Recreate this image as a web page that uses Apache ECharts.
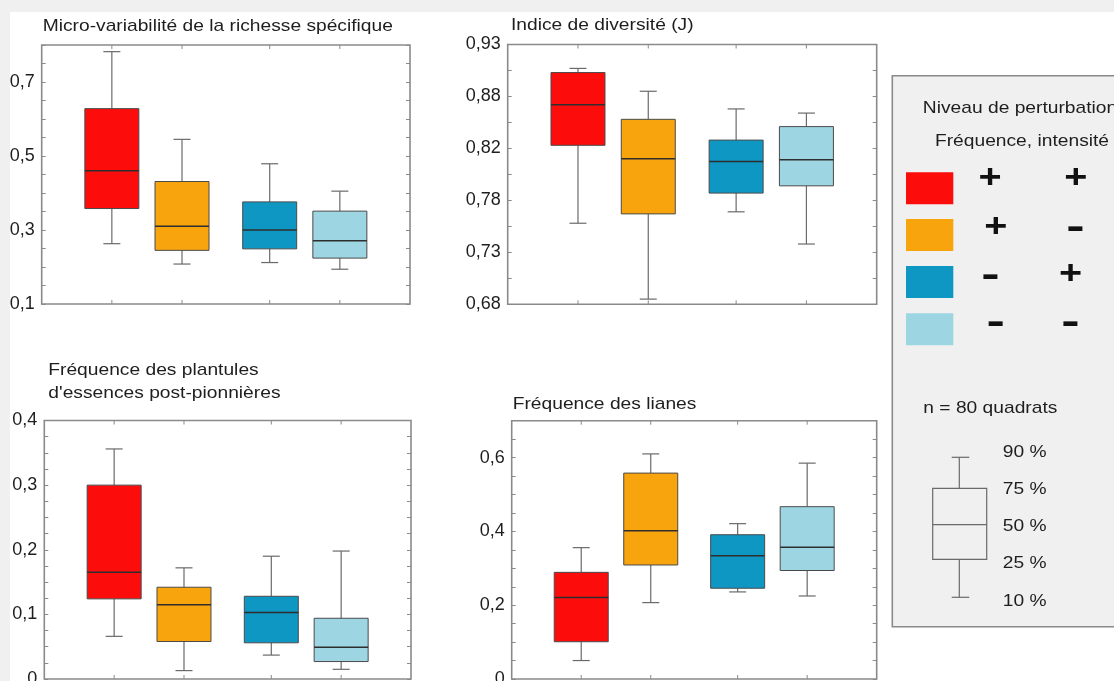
<!DOCTYPE html>
<html>
<head>
<meta charset="utf-8">
<script src="https://cdn.jsdelivr.net/npm/echarts@6/dist/echarts.min.js"></script>
<style>
html,body{margin:0;padding:0;background:#f0f0f0;}
#chart{width:1114px;height:681px;}
</style>
</head>
<body>
<div id="chart"></div>
<script>
// ---------- DATA ----------
const groups = ['Fréquence +, intensité +', 'Fréquence +, intensité -', 'Fréquence -, intensité +', 'Fréquence -, intensité -'];
const legendFreq = ['+', '+', '-', '-'];
const legendInt = ['+', '-', '+', '-'];
const groupColors = ['#fd0c0c', '#f8a40c', '#0f97c4', '#9dd6e2'];

// Panel 1 : Micro-variabilité de la richesse spécifique
const richP10 = [0.263, 0.208, 0.212, 0.194];
const richQ1  = [0.358, 0.245, 0.249, 0.224];
const richMed = [0.460, 0.310, 0.300, 0.271];
const richQ3  = [0.628, 0.431, 0.376, 0.351];
const richP90 = [0.782, 0.545, 0.479, 0.405];
const richTickValues = [0.1, 0.3, 0.5, 0.7];
const richTickLabels = ['0,1', '0,3', '0,5', '0,7'];

// Panel 2 : Indice de diversité (J)
const divP10 = [0.753, 0.680, 0.764, 0.733];
const divQ1  = [0.828, 0.762, 0.782, 0.789];
const divMed = [0.867, 0.815, 0.8125, 0.814];
const divQ3  = [0.898, 0.853, 0.833, 0.846];
const divP90 = [0.902, 0.880, 0.863, 0.859];
const divTickValues = [0.675, 0.725, 0.775, 0.825, 0.875, 0.925];
const divTickLabels = ['0,68', '0,73', '0,78', '0,82', '0,88', '0,93'];

// Panel 3 : Fréquence des plantules d'essences post-pionnières
const plantP10 = [0.066, 0.013, 0.037, 0.015];
const plantQ1  = [0.124, 0.058, 0.056, 0.027];
const plantMed = [0.165, 0.115, 0.103, 0.049];
const plantQ3  = [0.300, 0.142, 0.128, 0.094];
const plantP90 = [0.356, 0.172, 0.190, 0.198];
const plantTickValues = [0, 0.1, 0.2, 0.3, 0.4];
const plantTickLabels = ['0', '0,1', '0,2', '0,3', '0,4'];

// Panel 4 : Fréquence des lianes
const lianeP10 = [0.050, 0.207, 0.236, 0.225];
const lianeQ1  = [0.101, 0.309, 0.246, 0.294];
const lianeMed = [0.221, 0.402, 0.334, 0.357];
const lianeQ3  = [0.289, 0.558, 0.391, 0.467];
const lianeP90 = [0.356, 0.610, 0.421, 0.585];
const lianeTickValues = [0, 0.2, 0.4, 0.6];
const lianeTickLabels = ['0', '0,2', '0,4', '0,6'];

const keyLabels = ['90 %', '75 %', '50 %', '25 %', '10 %'];
const sampleText = 'n = 80 quadrats';
const legendTitle1 = 'Niveau de perturbation';
const legendTitle2 = 'Fréquence, intensité';

// ---------- LAYOUT ----------
const FONT = '"Liberation Sans", Arial, Helvetica, sans-serif';
const SX = 1.13;
const groupX = [4, 8, 13, 17];      // position of each group on a 0..21 base axis
const BOX_W = 54, CAP_W = 17, TICK_L = 4;
const FRAME = '#8a8a8a';

function buildData(p10, q1, med, q3, p90) {
  return groups.map((g, i) => ({ name: g, value: [groupX[i], p10[i], q1[i], med[i], q3[i], p90[i]] }));
}

const panels = [
  { title: ['Micro-variabilité de la richesse spécifique'], tx: 42.7, ty: [26], grid: { left: 41.7, top: 45, width: 368.3, height: 259 },
    min: 0.1, max: 0.8, step: 0.05, tv: richTickValues, tl: richTickLabels, data: buildData(richP10, richQ1, richMed, richQ3, richP90) },
  { title: ['Indice de diversité (J)'], tx: 511, ty: [25.2], grid: { left: 507.7, top: 44.5, width: 369, height: 259.8 },
    min: 0.675, max: 0.925, step: 0.025, tv: divTickValues, tl: divTickLabels, data: buildData(divP10, divQ1, divMed, divQ3, divP90) },
  { title: ['Fréquence des plantules', "d'essences post-pionnières"], tx: 48.3, ty: [370.8, 393.4], grid: { left: 44.3, top: 420.5, width: 366.7, height: 258.5 },
    min: 0, max: 0.4, step: 0.025, tv: plantTickValues, tl: plantTickLabels, data: buildData(plantP10, plantQ1, plantMed, plantQ3, plantP90) },
  { title: ['Fréquence des lianes'], tx: 512.7, ty: [404.2], grid: { left: 511.7, top: 420.7, width: 365, height: 258.3 },
    min: 0, max: 0.7, step: 0.05, tv: lianeTickValues, tl: lianeTickLabels, data: buildData(lianeP10, lianeQ1, lianeMed, lianeQ3, lianeP90) }
];

function renderBox(params, api) {
  const x = api.value(0);
  const lo = api.coord([x, api.value(1)]);
  const q1 = api.coord([x, api.value(2)]);
  const md = api.coord([x, api.value(3)]);
  const q3 = api.coord([x, api.value(4)]);
  const hi = api.coord([x, api.value(5)]);
  const cx = lo[0];
  const hw = BOX_W / 2, cw = CAP_W / 2;
  const cs = params.coordSys;
  const wStyle = { stroke: '#6a6a6a', lineWidth: 1.2 };
  const color = groupColors[params.dataIndex];
  return {
    type: 'group',
    children: [
      { type: 'line', shape: { x1: cx, y1: hi[1], x2: cx, y2: q3[1] }, style: wStyle },
      { type: 'line', shape: { x1: cx - cw, y1: hi[1], x2: cx + cw, y2: hi[1] }, style: wStyle },
      { type: 'line', shape: { x1: cx, y1: q1[1], x2: cx, y2: lo[1] }, style: wStyle },
      { type: 'line', shape: { x1: cx - cw, y1: lo[1], x2: cx + cw, y2: lo[1] }, style: wStyle },
      { type: 'rect', shape: { x: cx - hw, y: q3[1], width: BOX_W, height: q1[1] - q3[1] }, style: { fill: color, stroke: '#4a4a4a', lineWidth: 1 } },
      { type: 'line', shape: { x1: cx - hw, y1: md[1], x2: cx + hw, y2: md[1] }, style: { stroke: '#2e2e2e', lineWidth: 1.5 } },
      { type: 'line', shape: { x1: cx, y1: cs.y, x2: cx, y2: cs.y + TICK_L }, style: { stroke: FRAME, lineWidth: 1 } },
      { type: 'line', shape: { x1: cx, y1: cs.y + cs.height, x2: cx, y2: cs.y + cs.height - TICK_L }, style: { stroke: FRAME, lineWidth: 1 } }
    ]
  };
}

const grid = [], xAxis = [], yAxis = [], series = [];
const graphic = [];

graphic.push({ type: 'rect', z: -10, shape: { x: 10, y: 12, width: 1104, height: 669 }, style: { fill: '#ffffff' } });

panels.forEach((p, i) => {
  grid.push(Object.assign({ show: true, borderColor: FRAME, borderWidth: 1.6, backgroundColor: 'transparent',
    containLabel: false, outerBoundsMode: 'none' }, p.grid));
  xAxis.push({ type: 'value', gridIndex: i, min: 0, max: 21, show: false });
  const fmt = (v) => { const k = p.tv.findIndex(t => Math.abs(t - v) < 1e-6); return k >= 0 ? p.tl[k] : ''; };
  const common = { type: 'value', gridIndex: i, min: p.min, max: p.max, interval: p.step,
    axisLine: { show: false }, splitLine: { show: false },
    axisTick: { show: true, inside: true, length: TICK_L, lineStyle: { color: FRAME, width: 1 } } };
  yAxis.push(Object.assign({}, common, { position: 'left',
    axisLabel: { show: true, formatter: fmt, fontSize: 18, fontFamily: FONT, color: '#1e1e1e', margin: 7 } }));
  yAxis.push(Object.assign({}, common, { position: 'right', axisLabel: { show: false } }));
  series.push({ type: 'custom', name: p.title.join(' '), xAxisIndex: i, yAxisIndex: 2 * i, data: p.data,
    renderItem: renderBox, encode: { x: 0, y: [1, 2, 3, 4, 5] }, clip: false, silent: true, z: 3 });
  p.title.forEach((t, k) => {
    graphic.push({ type: 'text', x: p.tx, y: p.ty[k], scaleX: SX, z: 20,
      style: { text: t, font: '17px ' + FONT, fill: '#1e1e1e', align: 'left', verticalAlign: 'middle' } });
  });
});

// ---------- LEGEND BOX ----------
graphic.push({ type: 'rect', z: 5, shape: { x: 892.3, y: 75.7, width: 240, height: 551 }, style: { fill: '#f0f0f0', stroke: FRAME, lineWidth: 1.6 } });
graphic.push({ type: 'text', x: 1020, y: 108.4, scaleX: SX, z: 20,
  style: { text: legendTitle1, font: '17px ' + FONT, fill: '#1e1e1e', align: 'center', verticalAlign: 'middle' } });
graphic.push({ type: 'text', x: 1022, y: 141.1, scaleX: SX, z: 20,
  style: { text: legendTitle2, font: '17px ' + FONT, fill: '#1e1e1e', align: 'center', verticalAlign: 'middle' } });

const swatchY = [172.3, 219, 266, 313.3];
const freqPos = [[990, 179.3], [995.8, 227.7], [990.3, 278.7], [995.7, 326]];
const intPos = [[1075.8, 179.3], [1075.5, 231], [1070.5, 275], [1070.3, 326]];
function symbolEl(sym, pos) {
  const isPlus = sym === '+';
  return { type: 'text', x: pos[0], y: isPlus ? pos[1] : pos[1] - 2.5, scaleX: isPlus ? 1.2 : 1.45, z: 20,
    style: { text: sym, font: isPlus ? 'bold 33px ' + FONT : 'bold 38px ' + FONT, fill: '#111', align: 'center', verticalAlign: 'middle' } };
}
groups.forEach((g, i) => {
  graphic.push({ type: 'rect', z: 10, shape: { x: 906, y: swatchY[i], width: 47.3, height: 32 }, style: { fill: groupColors[i] } });
  graphic.push(symbolEl(legendFreq[i], freqPos[i]));
  graphic.push(symbolEl(legendInt[i], intPos[i]));
});

graphic.push({ type: 'text', x: 923.3, y: 408.4, scaleX: SX, z: 20,
  style: { text: sampleText, font: '17px ' + FONT, fill: '#1e1e1e', align: 'left', verticalAlign: 'middle' } });

// key boxplot
const kStyle = { stroke: '#6a6a6a', lineWidth: 1.2, fill: 'none' };
graphic.push({ type: 'line', z: 10, shape: { x1: 959.3, y1: 457.3, x2: 959.3, y2: 488.3 }, style: kStyle });
graphic.push({ type: 'line', z: 10, shape: { x1: 951.7, y1: 457.3, x2: 969.3, y2: 457.3 }, style: kStyle });
graphic.push({ type: 'line', z: 10, shape: { x1: 959.3, y1: 559.3, x2: 959.3, y2: 597.3 }, style: kStyle });
graphic.push({ type: 'line', z: 10, shape: { x1: 951.7, y1: 597.3, x2: 969.3, y2: 597.3 }, style: kStyle });
graphic.push({ type: 'rect', z: 10, shape: { x: 932.7, y: 488.3, width: 54, height: 71 }, style: { fill: 'transparent', stroke: '#6a6a6a', lineWidth: 1.2 } });
graphic.push({ type: 'line', z: 10, shape: { x1: 932.7, y1: 524.7, x2: 986.7, y2: 524.7 }, style: kStyle });
const keyLabelY = [452.3, 489, 526, 563.3, 601];
keyLabels.forEach((t, i) => {
  graphic.push({ type: 'text', x: 1002.7, y: keyLabelY[i], scaleX: SX, z: 20,
    style: { text: t, font: '17px ' + FONT, fill: '#1e1e1e', align: 'left', verticalAlign: 'middle' } });
});

const chart = echarts.init(document.getElementById('chart'));
chart.setOption({
  backgroundColor: '#f0f0f0',
  animation: false,
  grid, xAxis, yAxis, series, graphic
});
</script>
</body>
</html>
